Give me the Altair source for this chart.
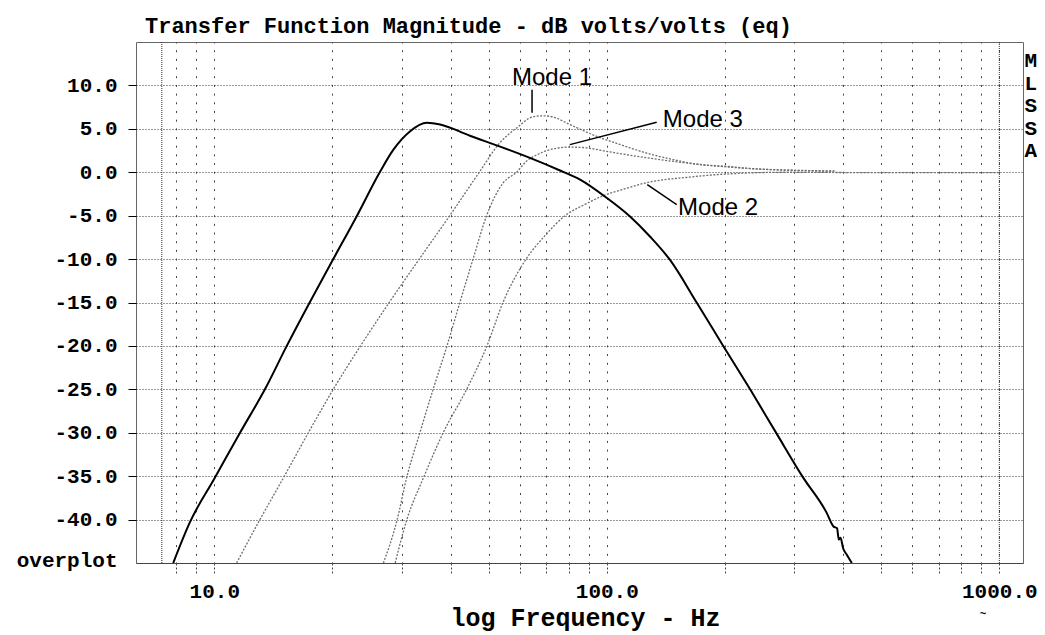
import altair as alt
import pandas as pd

# ---------------- data ----------------
total_freq = [7.86, 8.67, 10.0, 11.63, 13.46, 15.3, 17.5, 20.1, 23.1, 26.4, 28.6, 31.5,
              34.8, 37.6, 44.8, 53.5, 63.7, 76.0, 85.5, 100.0, 114.6, 128.8, 144.9,
              169.4, 198.0, 231.8, 270.8, 316.8, 363.0, 378.0, 386.0, 390.0, 394.0,
              400.0, 408.0, 421.0]
total_db = [-45.0, -40.3, -35.3, -30.0, -25.0, -20.0, -15.0, -10.0, -5.0, 0.0, 2.6, 4.7,
            5.7, 5.5, 4.2, 2.95, 1.65, 0.2, -0.85, -2.96, -5.1, -7.4, -10.1,
            -15.0, -20.0, -25.0, -30.1, -35.2, -39.2, -40.8, -41.0, -42.3, -42.1,
            -43.3, -44.0, -45.0]

mode1_freq = [11.4, 13.07, 15.0, 17.36, 20.1, 23.5, 28.0, 33.4, 39.8, 47.5, 53.4, 58.9,
              65.0, 69.0, 73.1, 80.5, 94.3, 108.0, 126.4, 147.7, 172.8, 202.0, 236.0,
              287.0, 380.0]
mode1_db = [-45.0, -40.0, -35.2, -30.0, -25.0, -20.1, -14.9, -9.9, -5.0, 0.1, 3.4, 5.1,
            6.4, 6.5, 6.35, 5.5, 4.13, 3.2, 2.2, 1.45, 0.87, 0.68, 0.4,
            0.25, 0.15]

mode3_freq = [26.97, 29.2, 30.9, 33.4, 36.1, 39.1, 42.3, 45.7, 49.4, 54.5, 58.9, 62.5,
              66.3, 70.3, 80.5, 88.9, 100.0, 116.8, 136.6, 159.7, 194.0, 236.0, 298.0,
              380.0]
mode3_db = [-45.0, -40.1, -35.2, -30.0, -25.0, -20.1, -14.9, -9.9, -5.0, -1.2, 0.0, 1.3,
            2.0, 2.5, 2.9, 2.8, 2.4, 1.9, 1.45, 1.07, 0.68, 0.41, 0.22,
            0.12]

mode2_freq = [28.9, 30.9, 34.1, 38.3, 44.0, 49.4, 54.5, 62.5, 69.6, 78.3, 88.0, 97.9,
              111.3, 126.4, 162.9, 202.0, 287.0, 500.0, 1000.0]
mode2_db = [-45.0, -40.1, -35.2, -30.0, -24.95, -20.1, -14.9, -9.9, -7.3, -5.0, -3.7, -2.7,
            -1.9, -1.2, -0.55, -0.2, 0.0, -0.05, -0.05]

label_text = ["Mode 1", "Mode 3", "Mode 2"]
label_freq = [57.35, 138.9, 151.9]
label_db = [10.09, 5.25, -4.88]

leader_freq1 = [64.5, 80.5, 126.8]
leader_db1 = [9.5, 3.18, -1.43]
leader_freq2 = [64.5, 134.0, 150.7]
leader_db2 = [6.85, 5.75, -3.73]

marker_freq = [7.35, 1000.0]

x_grid_values = [8, 9, 10, 20, 30, 40, 50, 60, 70, 80, 90, 100,
                 200, 300, 400, 500, 600, 700, 800, 900, 1000]
y_tick_values = [-45, -40, -35, -30, -25, -20, -15, -10, -5, 0, 5, 10]

title_text = "Transfer Function Magnitude - dB volts/volts (eq)"
x_title = "log Frequency - Hz"
side_text = "M\nL\nS\nS\nA"
cursor_text = "~"

# ---------------- tables ----------------
modes_df = pd.concat([
    pd.DataFrame({"freq": mode1_freq, "db": mode1_db, "mode": "Mode 1"}),
    pd.DataFrame({"freq": mode3_freq, "db": mode3_db, "mode": "Mode 3"}),
    pd.DataFrame({"freq": mode2_freq, "db": mode2_db, "mode": "Mode 2"}),
], ignore_index=True)
total_df = pd.DataFrame({"freq": total_freq, "db": total_db})
labels_df = pd.DataFrame({"freq": label_freq, "db": label_db, "text": label_text})
leaders_df = pd.DataFrame({"freq": leader_freq1, "db": leader_db1,
                           "f2": leader_freq2, "d2": leader_db2})
markers_df = pd.DataFrame({"freq": marker_freq})

W, H = 887, 521
MONO = "Liberation Mono"

xscale = alt.Scale(type="log", domain=[6.318, 1149], nice=False)
yscale = alt.Scale(domain=[-45, 15], nice=False, zero=False)

x_axis = alt.Axis(
    values=x_grid_values,
    labelExpr="(datum.value == 10 || datum.value == 100 || datum.value == 1000) ? format(datum.value, '.1f') : ''",
    grid=True, gridDash=[2, 6.683], gridDashOffset=1, gridColor="#444", gridWidth=1,
    ticks=True, tickDash=[2, 2], tickSize=12, tickColor="#444", tickWidth=1,
    domain=True, domainColor="#444", domainWidth=1,
    labelFont=MONO, labelFontSize=21, labelFontWeight="bold", labelColor="black",
    labelPadding=5, labelFlush=False, labelOverlap=False,
    title=x_title, titleFont=MONO, titleFontSize=25, titleFontWeight="bold",
    titleColor="black", titleX=449, titleY=62, titleBaseline="alphabetic",
    titleAlign="center", titleAnchor="start",
)

y_axis = alt.Axis(
    values=y_tick_values,
    labelExpr="datum.value == -45 ? 'overplot' : (datum.value < 0 ? '-' : '') + format(abs(datum.value), '.1f')",
    grid=True, gridDash=[1, 2], gridColor="#333", gridWidth=1,
    gridOpacity={"condition": {"test": "datum.value == -45", "value": 0}, "value": 1},
    ticks=True, tickSize=8, tickColor="black", tickWidth=1,
    tickOpacity={"condition": {"test": "datum.value == -45", "value": 0}, "value": 1},
    labelOffset={"condition": {"test": "datum.value == -45", "value": -3}, "value": 0},
    domain=False,
    labelFont=MONO, labelFontSize=21, labelFontWeight="bold", labelColor="black",
    labelPadding=11, labelOverlap=False, labelFlush=False,
    title=None,
)

X = alt.X("freq:Q", scale=xscale, axis=x_axis)
Y = alt.Y("db:Q", scale=yscale, axis=y_axis)

gray = alt.Chart(modes_df).mark_line(
    color="#6e6e6e", strokeWidth=1.3, strokeDash=[2, 1.5], clip=True, interpolate="monotone"
).encode(x=X, y=Y, detail="mode:N")

black = alt.Chart(total_df).mark_line(
    color="black", strokeWidth=2, clip=True, interpolate="monotone"
).encode(x=X, y=Y)

markers = alt.Chart(markers_df).mark_rule(
    color="#333", strokeDash=[1, 1], strokeWidth=1
).encode(x=X)

leaders = alt.Chart(leaders_df).mark_rule(color="black", strokeWidth=1.5).encode(
    x=X, y=Y, x2="f2:Q", y2="d2:Q",
)

labels = alt.Chart(labels_df).mark_text(
    font="Liberation Sans", fontSize=24, align="left", baseline="alphabetic", color="black"
).encode(x=X, y=Y, text="text:N")

title = alt.Chart(pd.DataFrame({"t": [title_text]})).mark_text(
    font=MONO, fontSize=22, fontWeight="bold", align="left", baseline="alphabetic", color="black"
).encode(x=alt.value(9), y=alt.value(-9), text="t:N")

side = alt.Chart(pd.DataFrame({"t": [side_text]})).mark_text(
    font=MONO, fontSize=21, fontWeight="bold", align="right", baseline="middle",
    color="black", lineBreak="\n", lineHeight=22.5
).encode(x=alt.value(W + 14), y=alt.value(19), text="t:N")

cursor = alt.Chart(pd.DataFrame({"t": [cursor_text]})).mark_text(
    font=MONO, fontSize=11, fontWeight="bold", align="center", baseline="top", color="black"
).encode(x=alt.value(847), y=alt.value(H + 45), text="t:N")

chart = alt.layer(gray, black, markers, leaders, labels, title, side, cursor).properties(
    width=W, height=H,
    padding={"left": 128, "top": 34, "right": 14, "bottom": 72},
    autosize=alt.AutoSizeParams(type="none"),
    background="white",
).configure_view(stroke="#666", strokeWidth=1)

chart.save("out.html", embed_options={"renderer": "svg", "actions": False})
